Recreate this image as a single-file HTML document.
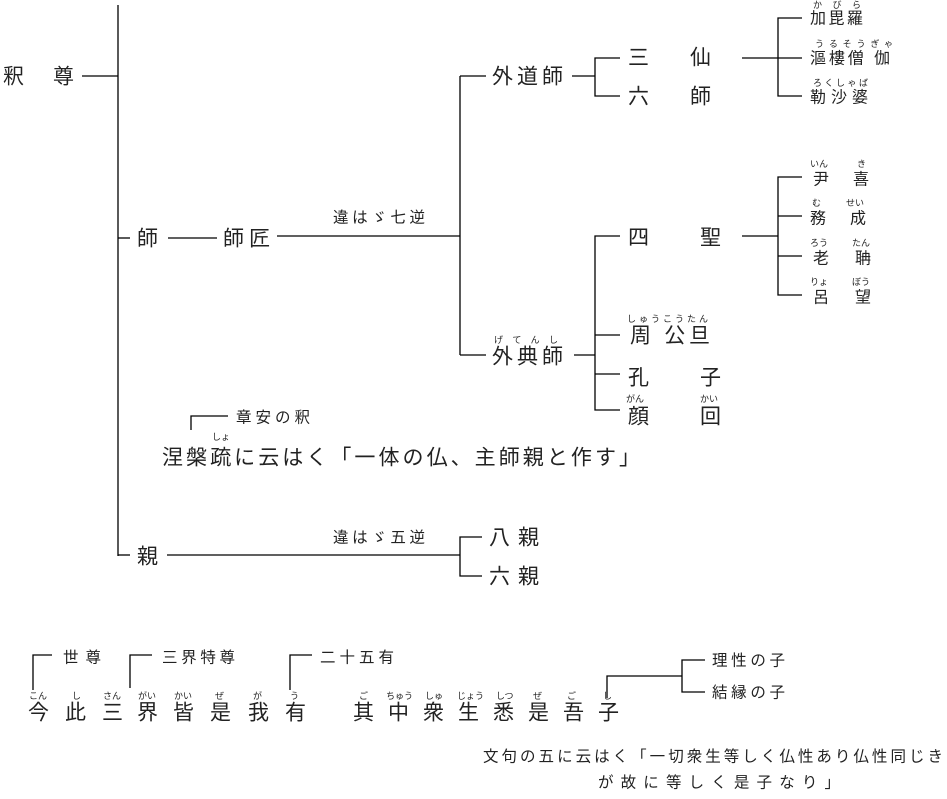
<!DOCTYPE html>
<html><head><meta charset="utf-8"><style>
html,body{margin:0;padding:0;background:#fff;}
svg{display:block;}
text{font-family:"Liberation Sans","Noto Sans CJK JP",sans-serif;fill:#222;dominant-baseline:central;}
.b{font-size:21px;}
.m{font-size:16px;}
.s{font-size:15.5px;}
.r{font-size:9px;}
line,polyline{stroke:#000;stroke-width:1.3;fill:none;}
</style></head><body>
<svg width="947" height="799" viewBox="0 0 947 799" xmlns="http://www.w3.org/2000/svg">
<line x1="118" y1="5" x2="118" y2="556"/>
<text class="b" x="3" y="77">釈</text><text class="b" x="53" y="77">尊</text>
<line x1="82" y1="76" x2="118" y2="76"/>
<line x1="118" y1="238" x2="130" y2="238"/>
<text class="b" x="137" y="239">師</text>
<line x1="168" y1="238" x2="217" y2="238"/>
<text class="b" x="223" y="239" textLength="47" lengthAdjust="spacing">師匠</text>
<line x1="277" y1="236" x2="460" y2="236"/>
<text class="s" x="333" y="218" textLength="92" lengthAdjust="spacing">違はゞ七逆</text>
<line x1="460" y1="76" x2="460" y2="355"/>
<line x1="460" y1="76" x2="486" y2="76"/>
<text class="b" x="492" y="77" textLength="71" lengthAdjust="spacing">外道師</text>
<line x1="572" y1="76" x2="595" y2="76"/>
<polyline points="620,58 595,58 595,96 620,96"/>
<text class="b" x="628" y="58">三</text><text class="b" x="690" y="58">仙</text>
<text class="b" x="628" y="97">六</text><text class="b" x="690" y="97">師</text>
<line x1="742" y1="58" x2="802" y2="58"/>
<polyline points="802,18 778,18 778,96 802,96"/>
<text class="m" x="810" y="19" textLength="53" lengthAdjust="spacing">加毘羅</text><text class="r" x="813" y="5" textLength="48" lengthAdjust="spacing">かびら</text>
<text class="m" x="810" y="59" textLength="80" lengthAdjust="spacing">漚樓僧 伽</text><text class="r" x="815" y="44" textLength="78" lengthAdjust="spacing">うるそうぎゃ</text>
<text class="m" x="810" y="98" textLength="58" lengthAdjust="spacing">勒沙婆</text><text class="r" x="813" y="83" textLength="55" lengthAdjust="spacing">ろくしゃば</text>
<line x1="460" y1="355" x2="486" y2="355"/>
<text class="b" x="492" y="357" textLength="71" lengthAdjust="spacing">外典師</text><text class="r" x="494" y="340" textLength="64" lengthAdjust="spacing">げてんし</text>
<line x1="574" y1="355" x2="595" y2="355"/>
<polyline points="620,236 595,236 595,410 620,410"/>
<line x1="595" y1="335" x2="620" y2="335"/>
<line x1="595" y1="374" x2="620" y2="374"/>
<text class="b" x="628" y="238">四</text><text class="b" x="700" y="238">聖</text>
<line x1="742" y1="236" x2="778" y2="236"/>
<polyline points="802,177 778,177 778,295 802,295"/>
<line x1="778" y1="216" x2="802" y2="216"/>
<line x1="778" y1="256" x2="802" y2="256"/>
<text class="m" x="813" y="180">尹</text><text class="m" x="853" y="180">喜</text><text class="r" x="810" y="164">いん</text><text class="r" x="857" y="164">き</text>
<text class="m" x="810" y="219">務</text><text class="m" x="850" y="219">成</text><text class="r" x="812" y="203">む</text><text class="r" x="846" y="203">せい</text>
<text class="m" x="813" y="259">老</text><text class="m" x="855" y="259">聃</text><text class="r" x="810" y="243">ろう</text><text class="r" x="852" y="243">たん</text>
<text class="m" x="813" y="298">呂</text><text class="m" x="855" y="298">望</text><text class="r" x="810" y="282">りょ</text><text class="r" x="852" y="282">ぼう</text>
<text class="b" x="630" y="336" textLength="80" lengthAdjust="spacing">周 公旦</text><text class="r" x="627" y="319" textLength="81" lengthAdjust="spacing">しゅうこうたん</text>
<text class="b" x="628" y="378">孔</text><text class="b" x="700" y="378">子</text>
<text class="b" x="628" y="417">顔</text><text class="b" x="700" y="417">回</text><text class="r" x="626" y="399">がん</text><text class="r" x="700" y="399">かい</text>
<polyline points="191,430 191,416 228,416"/>
<text class="s" x="236" y="418" textLength="74" lengthAdjust="spacing">章安の釈</text>
<text class="b" x="162" y="458" textLength="478" lengthAdjust="spacing">涅槃疏に云はく「一体の仏、主師親と作す」</text>
<text class="r" x="212" y="437">しょ</text>
<text class="b" x="137" y="557">親</text>
<polyline points="118,555 130,555"/>
<line x1="167" y1="555" x2="460" y2="555"/>
<text class="s" x="333" y="538" textLength="92" lengthAdjust="spacing">違はゞ五逆</text>
<polyline points="482,537 460,537 460,576 482,576"/>
<text class="b" x="489" y="538" textLength="50" lengthAdjust="spacing">八親</text>
<text class="b" x="489" y="577" textLength="50" lengthAdjust="spacing">六親</text>
<polyline points="33,690 33,655 52,655"/><text class="s" x="63" y="658" textLength="38" lengthAdjust="spacing">世尊</text>
<polyline points="130,688 130,655 152,655"/><text class="s" x="162" y="658" textLength="73" lengthAdjust="spacing">三界特尊</text>
<polyline points="290,690 290,655 312,655"/><text class="s" x="320" y="658" textLength="74" lengthAdjust="spacing">二十五有</text>
<text class="b" x="28" y="713">今</text><text class="b" x="65" y="713">此</text><text class="b" x="102" y="713">三</text><text class="b" x="137" y="713">界</text><text class="b" x="173" y="713">皆</text><text class="b" x="210" y="713">是</text><text class="b" x="248" y="713">我</text><text class="b" x="285" y="713">有</text>
<text class="b" x="353" y="713">其</text><text class="b" x="388" y="713">中</text><text class="b" x="423" y="713">衆</text><text class="b" x="458" y="713">生</text><text class="b" x="493" y="713">悉</text><text class="b" x="528" y="713">是</text><text class="b" x="563" y="713">吾</text><text class="b" x="598" y="713">子</text>
<text class="r" x="29" y="696">こん</text><text class="r" x="72" y="696">し</text><text class="r" x="103" y="696">さん</text><text class="r" x="138" y="696">がい</text><text class="r" x="174" y="696">かい</text><text class="r" x="215" y="696">ぜ</text><text class="r" x="253" y="696">が</text><text class="r" x="290" y="696">う</text>
<text class="r" x="359" y="696">ご</text><text class="r" x="386" y="696">ちゅう</text><text class="r" x="425" y="696">しゅ</text><text class="r" x="457" y="696">じょう</text><text class="r" x="496" y="696">しつ</text><text class="r" x="533" y="696">ぜ</text><text class="r" x="567" y="696">ご</text><text class="r" x="603" y="696">し</text>
<polyline points="607,698 607,676 682,676"/>
<polyline points="705,660 682,660 682,692 705,692"/>
<text class="s" x="712" y="661" textLength="73" lengthAdjust="spacing">理性の子</text>
<text class="s" x="712" y="693" textLength="73" lengthAdjust="spacing">結縁の子</text>
<text class="s" x="483" y="757" textLength="460" lengthAdjust="spacing">文句の五に云はく「一切衆生等しく仏性あり仏性同じき</text>
<text class="s" x="598" y="783" textLength="242" lengthAdjust="spacing">が故に等しく是子なり」</text>
</svg>
</body></html>
